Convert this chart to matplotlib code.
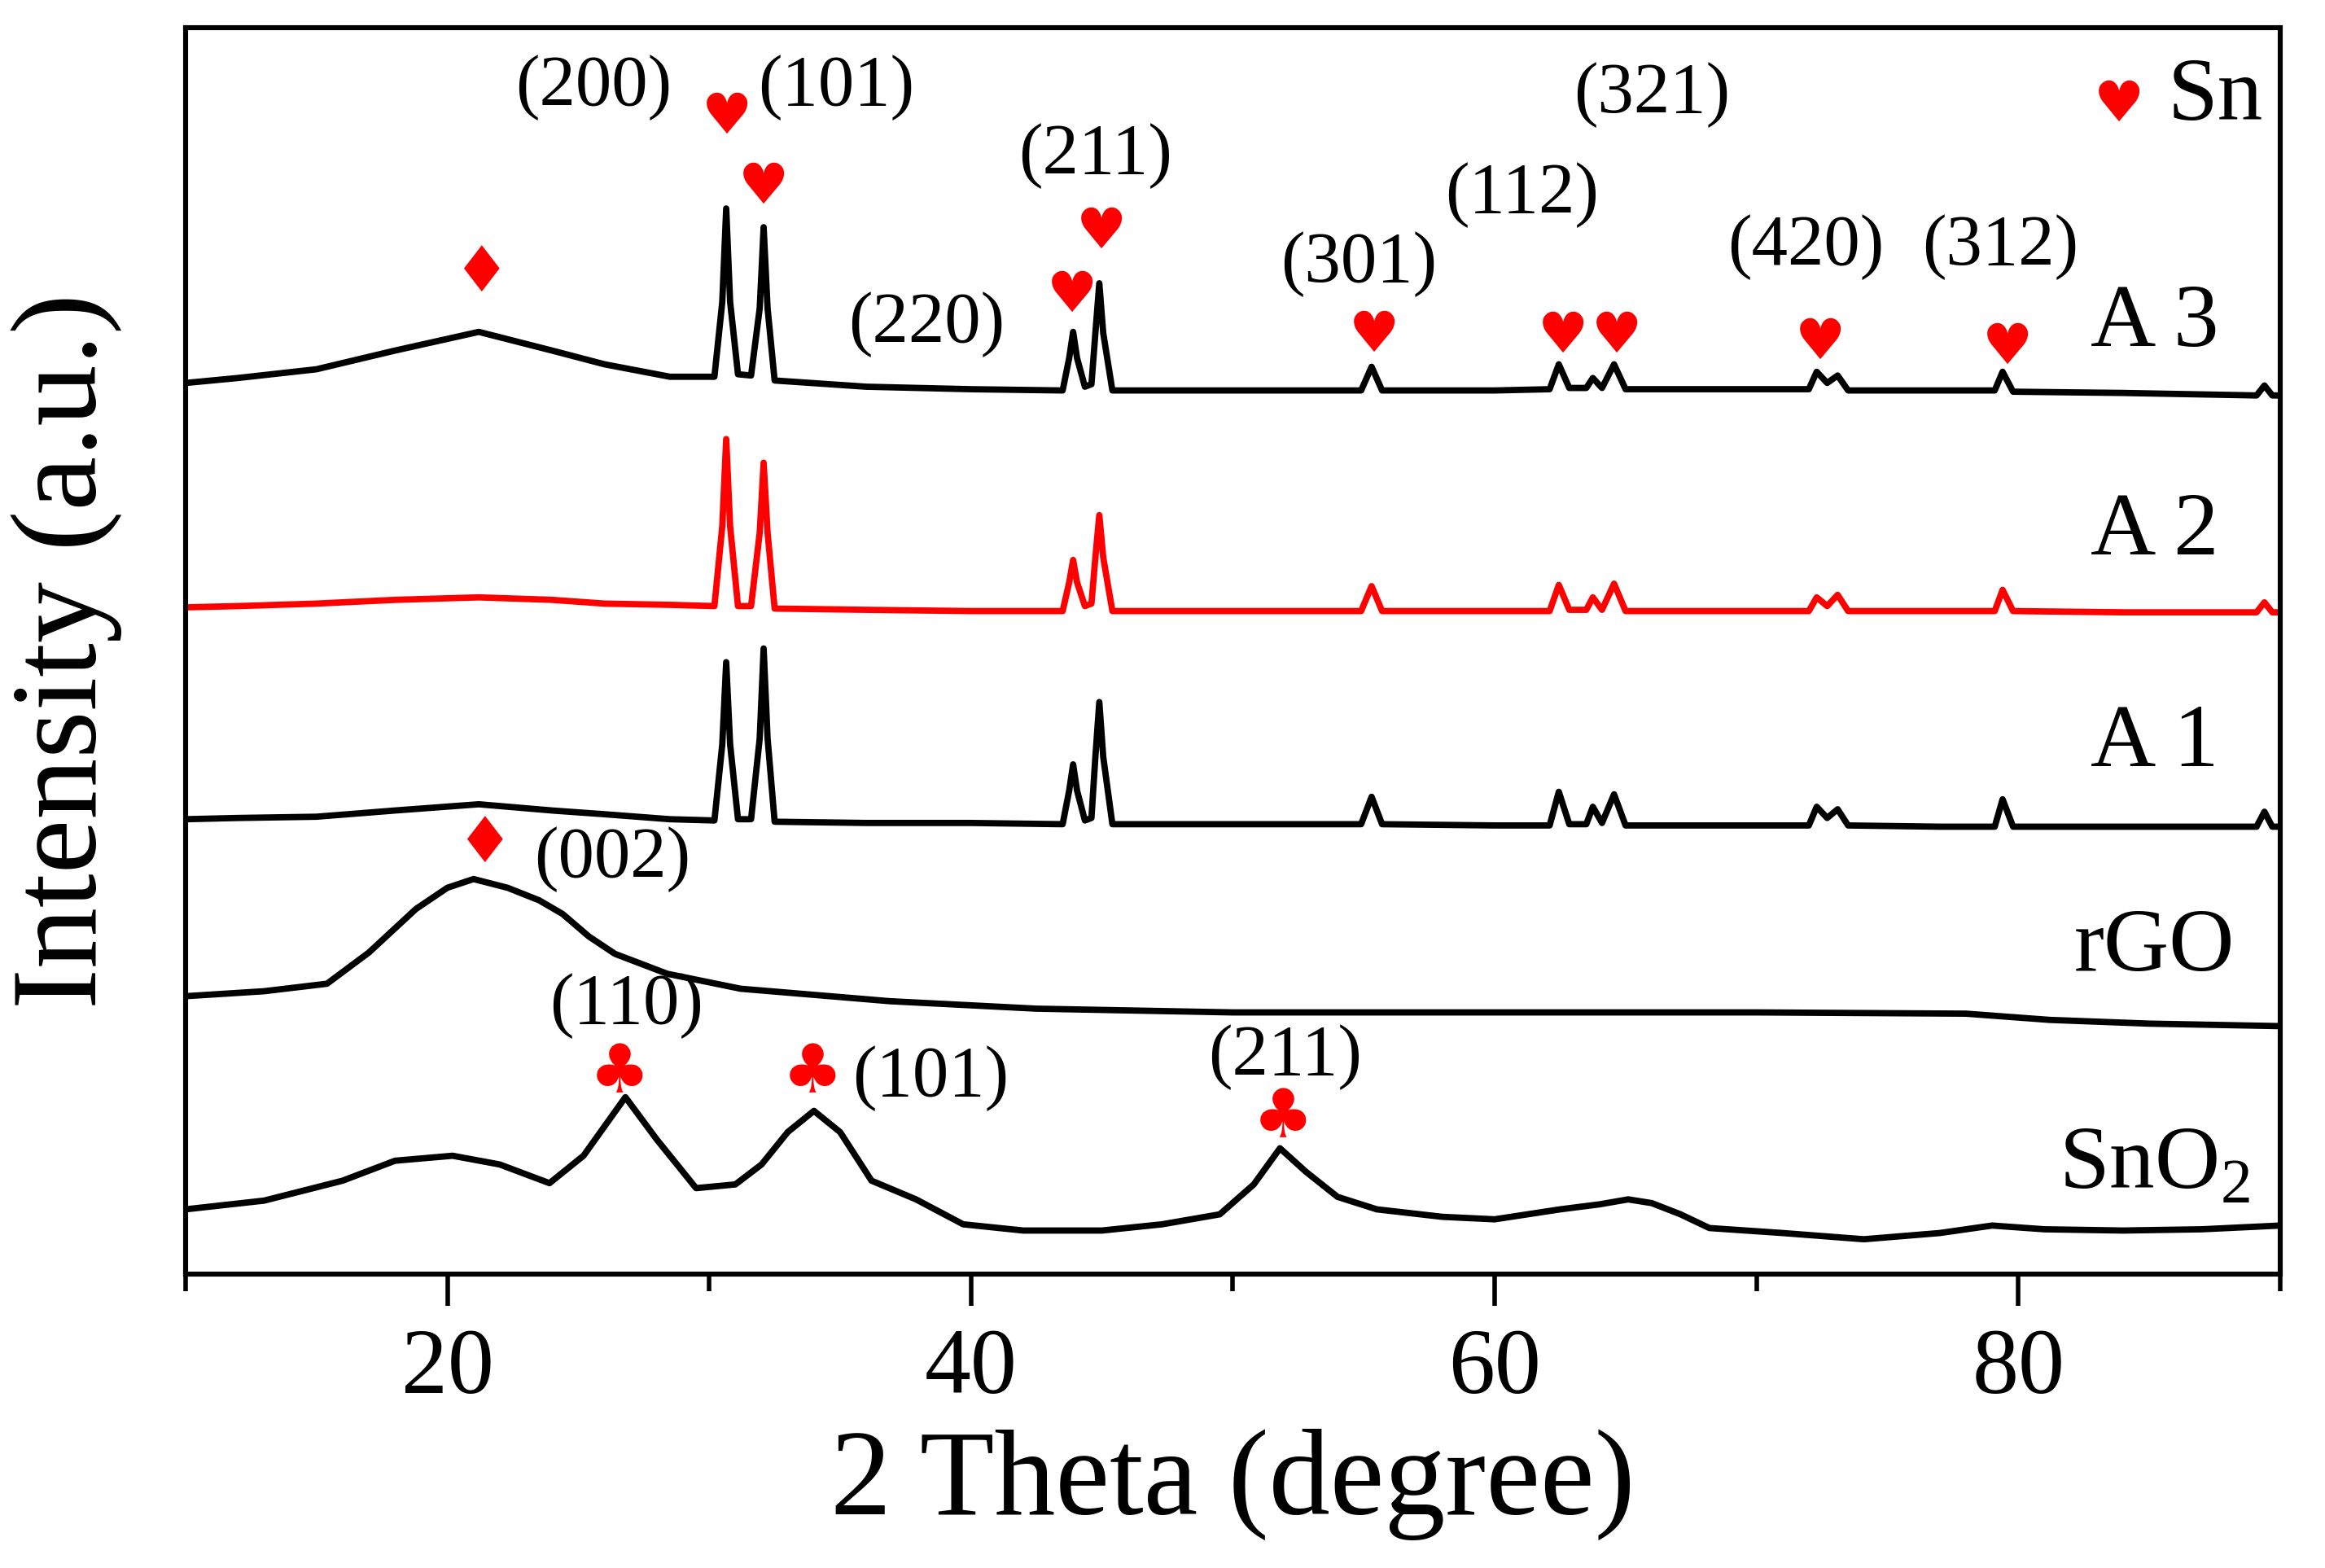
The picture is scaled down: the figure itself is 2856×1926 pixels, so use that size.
import numpy as np
import matplotlib
matplotlib.use('Agg')
import matplotlib.pyplot as plt

plt.rcParams['font.family'] = 'Liberation Serif'
plt.rcParams['mathtext.fontset'] = 'custom'
plt.rcParams['mathtext.rm'] = 'Liberation Serif'

# SnO2 pattern (2theta, intensity a.u.)
sno2_x = [10, 13, 16, 18, 20.2, 22, 23.9, 25.2, 26.8, 28, 29.5, 31, 32.0, 33, 34.0, 35,
          36.2, 37.9, 39.7, 42, 45, 47.3, 49.5, 50.8, 51.8, 52.8, 54, 55.5, 58, 60, 62.5,
          64, 65.1, 66, 67.1, 68.2, 71, 74.1, 77, 79, 81, 84, 87, 90]
sno2_y = [5.2, 5.9, 7.5, 9.1, 9.5, 8.8, 7.3, 9.5, 14.2, 10.8, 6.9, 7.2, 8.8, 11.4, 13.1, 11.4,
          7.5, 6.0, 4.0, 3.5, 3.5, 4.0, 4.8, 7.2, 10.1, 8.2, 6.2, 5.2, 4.6, 4.4, 5.2,
          5.6, 6.0, 5.7, 4.8, 3.7, 3.3, 2.8, 3.3, 3.9, 3.6, 3.5, 3.6, 3.9]

# rGO pattern
rgo_x = [10, 13, 15.4, 17, 18.8, 20.0, 21.0, 22.3, 23.5, 24.4, 25.4, 26.4, 28.4, 31.2,
         36.9, 42.5, 50, 60, 70, 78, 81.2, 85, 90]
rgo_y = [22.3, 22.7, 23.3, 25.8, 29.3, 31.0, 31.7, 31.0, 30.0, 28.9, 27.1, 25.7, 24.1, 22.9,
         21.9, 21.3, 21.0, 21.0, 21.0, 20.9, 20.4, 20.1, 19.9]

# Sn/rGO composites A1-A3 share the same 2theta points
sn_x = [10, 12, 15, 18, 21.2, 24, 26, 28.5, 30.2, 30.5, 30.65, 30.8, 31.1, 31.6, 31.93, 32.08,
        32.23, 32.5, 36, 40, 43.5, 43.75, 43.9, 44.05, 44.35, 44.6, 44.75, 44.9, 45.05, 45.4,
        50, 54.9, 55.3, 55.7, 60, 62.1, 62.45, 62.85, 63.5, 63.75, 64.1, 64.56, 65.0, 68,
        72.0, 72.3, 72.7, 73.1, 73.5, 77, 79.1, 79.4, 79.8, 84, 89.1, 89.4, 89.7, 90]
a3_y = [71.5, 71.9, 72.6, 74.1, 75.6, 74.1, 73.0, 72.0, 72.0, 78, 85.5, 78, 72.2, 72.1, 77.5, 84.0,
        77.5, 71.7, 71.2, 71.0, 70.9, 73.5, 75.6, 73.5, 71.2, 71.4, 75.5, 79.5, 75.5, 70.9,
        70.9, 70.9, 72.8, 70.9, 70.9, 71.0, 73.0, 71.1, 71.1, 71.9, 71.1, 73.0, 71.0, 71.0,
        71.0, 72.4, 71.5, 72.1, 70.9, 70.9, 70.9, 72.4, 70.8, 70.7, 70.5, 71.3, 70.5, 70.5]
a2_y = [53.5, 53.6, 53.8, 54.1, 54.3, 54.1, 53.8, 53.7, 53.6, 60, 67.0, 60, 53.6, 53.6, 59.5, 65.1,
        59.5, 53.4, 53.3, 53.2, 53.2, 55.5, 57.3, 55.5, 53.6, 53.8, 57.5, 60.9, 57.5, 53.2,
        53.2, 53.2, 55.2, 53.2, 53.2, 53.2, 55.3, 53.3, 53.3, 54.3, 53.3, 55.4, 53.2, 53.2,
        53.2, 54.3, 53.6, 54.5, 53.2, 53.2, 53.2, 54.9, 53.2, 53.1, 53.1, 53.9, 53.1, 53.1]
a1_y = [36.5, 36.6, 36.7, 37.2, 37.7, 37.2, 36.9, 36.5, 36.4, 42.5, 49.1, 42.5, 36.5, 36.5, 43, 50.2,
        43, 36.3, 36.2, 36.2, 36.1, 38.8, 40.9, 38.8, 36.4, 36.6, 41.5, 45.9, 41.5, 36.1,
        36.1, 36.1, 38.3, 36.1, 36.0, 36.0, 38.7, 36.1, 36.1, 37.5, 36.2, 38.5, 36.0, 36.0,
        36.0, 37.5, 36.6, 37.3, 36.0, 35.9, 35.9, 38.1, 35.9, 35.9, 35.9, 37.1, 35.9, 35.9]

sample_names = ['A 3', 'A 2', 'A 1', 'rGO', 'SnO$_2$']

# (label, 2theta, y) for the hkl labels
hkl_labels = [('(200)', 25.6, 95.2), ('(101)', 34.85, 95.2), ('(220)', 38.3, 76.2),
              ('(211)', 44.75, 89.7), ('(301)', 54.8, 81.0), ('(112)', 61.05, 86.6),
              ('(321)', 66.0, 94.6), ('(420)', 71.9, 82.4), ('(312)', 79.3, 82.4),
              ('(002)', 26.3, 33.3), ('(110)', 26.85, 21.5), ('(101)', 38.45, 15.7),
              ('(211)', 52.0, 17.4)]
hearts = [(30.68, 92.8), (32.08, 87.2), (43.86, 78.5), (44.98, 83.6), (55.4, 75.3),
          (62.6, 75.2), (64.65, 75.2), (72.45, 74.7), (79.6, 74.3), (83.85, 93.8)]
diamonds = [(21.3, 80.3), (21.45, 34.5)]
clubs = [(26.57, 16.1), (33.94, 16.1), (51.92, 12.5)]

fig = plt.figure(figsize=(14.28, 9.63), dpi=200)
ax = fig.add_axes([0.0798, 0.1874, 0.9009, 0.7949])

lw = 2.8
ax.plot(sno2_x, sno2_y, color='black', lw=lw)
ax.plot(rgo_x, rgo_y, color='black', lw=lw)
ax.plot(sn_x, a1_y, color='black', lw=lw)
ax.plot(sn_x, a2_y, color='#ff0000', lw=lw)
ax.plot(sn_x, a3_y, color='black', lw=lw)

for txt, x, y in hkl_labels:
    ax.text(x, y, txt, fontsize=32, ha='center', va='center')
for x, y in hearts:
    ax.text(x, y, '\u2665', fontsize=25, color='#ff0000', ha='center', va='center',
            family='DejaVu Sans')
for x, y in diamonds:
    ax.text(x, y, '\u2666', fontsize=28, color='#ff0000', ha='center', va='center',
            family='DejaVu Sans')
for x, y in clubs:
    ax.text(x, y, '\u2663', fontsize=30, color='#ff0000', ha='center', va='center',
            family='DejaVu Sans')

ax.text(85.7, 94.4, 'Sn', fontsize=40, ha='left', va='center')
name_y = [76.2, 59.5, 42.5, 26.1, 8.6]
for name, y in zip(sample_names, name_y):
    ax.text(85.2, y, name, fontsize=40, ha='center', va='center')

ax.set_xlim(10, 90)
ax.set_ylim(0, 100)
ax.set_xticks([20, 40, 60, 80])
ax.set_xticks([10, 30, 50, 70, 90], minor=True)
ax.set_yticks([])
ax.tick_params(axis='x', which='major', direction='out', length=14, width=2, labelsize=41, pad=10)
ax.tick_params(axis='x', which='minor', direction='out', length=7.5, width=2)
for s in ax.spines.values():
    s.set_linewidth(2.2)

ax.set_xlabel('2 Theta (degree)', fontsize=54, va='center')
ax.xaxis.set_label_coords(0.5, -0.1685)
ax.set_ylabel('Intensity (a.u.)', fontsize=54, va='center')
ax.yaxis.set_label_coords(-0.0567, 0.5)

fig.savefig('out.png', dpi=200)
